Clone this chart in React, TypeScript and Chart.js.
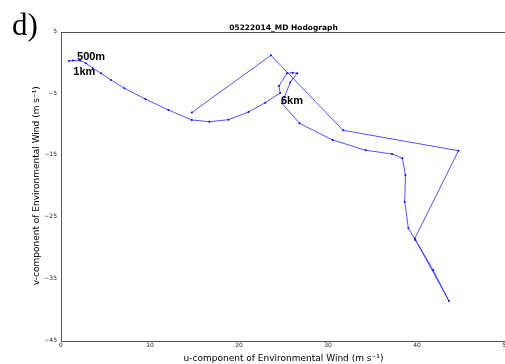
import React, { useEffect, useRef } from "react";
import { Chart, registerables } from "chart.js";

Chart.register(...registerables);

// Hodograph trace, surface upward (u, v in m/s)
const uWind = [
  0.9, 1.32, 2.14, 2.81, 3.57, 4.5, 5.62, 7.12, 9.5, 12.06, 14.7, 16.68, 18.82,
  21.07, 22.95, 24.63, 24.49, 25.39, 26.02, 26.55, 25.76, 24.83, 26.8, 30.52,
  34.23, 37.2, 38.36, 38.7, 38.62, 39.03, 39.82, 41.81, 43.59, 39.75, 44.66,
  31.69, 23.59, 14.7,
];
const vWind = [
  0.22, 0.3, 0.3, -0.15, -0.96, -1.77, -2.86, -4.2, -5.97, -7.72, -9.34, -9.62,
  -9.29, -8.05, -6.54, -4.97, -3.83, -1.77, -1.68, -1.77, -3.23, -6.64, -9.88,
  -12.58, -14.25, -14.85, -15.55, -18.31, -22.63, -26.9, -28.79, -33.65,
  -38.68, -28.55, -14.32, -11.01, 1.14, -8.13,
];

// Height annotations
const heightLabels = ["500m", "1km", "6km"];
const heightLabelU = [1.8, 1.38, 24.71];
const heightLabelV = [0.38, -2.0, -6.75];

const xTicks = [0, 10, 20, 30, 40, 50];
const yTicks = [5, -5, -15, -25, -35, -45];

const titleText = "05222014_MD Hodograph";
const panelText = "d)";

const fmt = (v: number) => (v < 0 ? "\u2212" + Math.abs(v) : String(v));

export default function App() {
  const canvasRef = useRef<HTMLCanvasElement | null>(null);

  useEffect(() => {
    if (!canvasRef.current) return;

    const framePlugin = {
      id: "frame",
      afterDraw(chart: any) {
        const { ctx, chartArea } = chart;
        ctx.save();
        // box around the axes
        ctx.strokeStyle = "#555";
        ctx.lineWidth = 1;
        ctx.strokeRect(
          Math.round(chartArea.left) + 0.5,
          Math.round(chartArea.top) + 0.5,
          Math.round(chartArea.right - chartArea.left),
          Math.round(chartArea.bottom - chartArea.top)
        );
        // title
        ctx.fillStyle = "#000";
        ctx.font = "bold 7.5px 'DejaVu Sans'";
        ctx.textAlign = "center";
        ctx.textBaseline = "alphabetic";
        ctx.fillText(titleText, (chartArea.left + chartArea.right) / 2, 30);
        // panel letter
        ctx.font = "31px 'Liberation Serif'";
        ctx.textAlign = "left";
        ctx.fillText(panelText, 12, 35);
        // height labels
        const xs = chart.scales.x;
        const ys = chart.scales.y;
        ctx.font = "bold 11px 'Liberation Sans'";
        heightLabels.forEach((t, i) => {
          ctx.fillText(
            t,
            xs.getPixelForValue(heightLabelU[i]),
            ys.getPixelForValue(heightLabelV[i])
          );
        });
        ctx.restore();
      },
    };

    const chart = new Chart(canvasRef.current, {
      type: "scatter",
      data: {
        datasets: [
          {
            data: uWind.map((u, i) => ({ x: u, y: vWind[i] })),
            showLine: true,
            borderColor: "rgba(40,40,255,0.8)",
            borderWidth: 1,
            pointRadius: 1,
            pointBackgroundColor: "#0000ff",
            pointBorderWidth: 0,
            tension: 0,
          },
        ],
      },
      options: {
        animation: false,
        responsive: false,
        maintainAspectRatio: false,
        layout: { padding: { left: 0, top: 31.5, right: 24, bottom: 0 } },
        plugins: {
          legend: { display: false },
          tooltip: { enabled: false },
          title: { display: false },
        },
        scales: {
          x: {
            type: "linear",
            min: 0,
            max: 50,
            afterFit: (s: any) => {
              s.height = 24;
            },
            afterBuildTicks: (s: any) => {
              s.ticks = xTicks.map((v) => ({ value: v }));
            },
            grid: { display: false, drawTicks: false },
            border: { display: false },
            ticks: {
              padding: 2,
              color: "#222",
              font: { family: "DejaVu Sans", size: 6 },
              maxRotation: 0,
              callback: (v: any) => fmt(Number(v)),
            },
            title: {
              display: true,
              text: "u-component of Environmental Wind (m s\u207B\u00B9)",
              color: "#000",
              font: { family: "DejaVu Sans", size: 9 },
              padding: { top: 3.6, bottom: 0 },
            },
          },
          y: {
            type: "linear",
            min: -45,
            max: 5,
            afterFit: (s: any) => {
              s.width = 61;
            },
            afterBuildTicks: (s: any) => {
              s.ticks = yTicks.map((v) => ({ value: v }));
            },
            grid: { display: false, drawTicks: false },
            border: { display: false },
            ticks: {
              padding: 4,
              color: "#222",
              font: { family: "DejaVu Sans", size: 6 },
              callback: (v: any) => fmt(Number(v)),
            },
            title: {
              display: true,
              text: "v-component of Environmental Wind (m s\u207B\u00B9)",
              color: "#000",
              font: { family: "DejaVu Sans", size: 9 },
              padding: { top: 31.6, bottom: 0 },
            },
          },
        },
      },
      plugins: [framePlugin],
    });

    return () => chart.destroy();
  }, []);

  return (
    <div
      style={{
        position: "fixed",
        left: 0,
        top: 0,
        width: 505,
        height: 364,
        overflow: "hidden",
        background: "#fff",
      }}
    >
      <canvas ref={canvasRef} width={530} height={364} style={{ display: "block" }} />
    </div>
  );
}
